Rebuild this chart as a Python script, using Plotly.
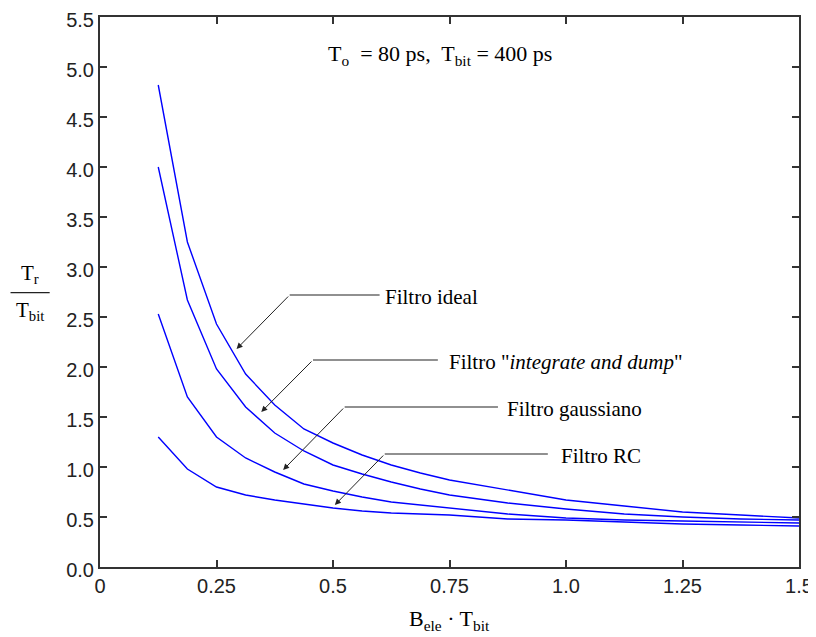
import plotly.graph_objects as go

# ---- data ----
x_vals = [0.125, 0.1875, 0.25, 0.3125, 0.375, 0.4375, 0.5, 0.5625, 0.625,
          0.6875, 0.75, 0.875, 1.0, 1.125, 1.25, 1.375, 1.5]
ideal = [4.82, 3.25, 2.43, 1.93, 1.62, 1.38, 1.24, 1.12, 1.02,
         0.94, 0.87, 0.77, 0.67, 0.61, 0.55, 0.52, 0.49]
int_dump = [4.00, 2.67, 1.98, 1.60, 1.34, 1.16, 1.02, 0.93, 0.85,
            0.78, 0.72, 0.64, 0.58, 0.53, 0.50, 0.48, 0.47]
gauss = [2.53, 1.70, 1.30, 1.09, 0.95, 0.83, 0.76, 0.70, 0.65,
         0.62, 0.59, 0.53, 0.49, 0.47, 0.46, 0.45, 0.44]
rc = [1.30, 0.98, 0.80, 0.72, 0.67, 0.63, 0.59, 0.56, 0.54,
      0.53, 0.52, 0.48, 0.47, 0.45, 0.43, 0.42, 0.41]

x_ticks = [0, 0.25, 0.5, 0.75, 1.0, 1.25, 1.5]
x_tick_text = ["0", "0.25", "0.5", "0.75", "1.0", "1.25", "1.5"]
y_ticks = [0.0, 0.5, 1.0, 1.5, 2.0, 2.5, 3.0, 3.5, 4.0, 4.5, 5.0, 5.5]
y_tick_text = ["0.0", "0.5", "1.0", "1.5", "2.0", "2.5", "3.0", "3.5", "4.0", "4.5", "5.0", "5.5"]

labels = ["Filtro ideal", "Filtro \"<i>integrate and dump</i>\"", "Filtro gaussiano", "Filtro RC"]
# arrow head (x,y), knee (x,y), line end x, text x
arrow_head = [(0.293, 2.18), (0.346, 1.55), (0.393, 0.97), (0.504, 0.62)]
knee = [(0.407, 2.72), (0.457, 2.07), (0.525, 1.60), (0.611, 1.13)]
line_end = [0.600, 0.725, 0.854, 0.961]
text_x = [0.608, 0.745, 0.870, 0.985]

serif = "Liberation Serif"
sans = "Liberation Sans"

fig = go.Figure()
for ys in [ideal, int_dump, gauss, rc]:
    fig.add_trace(go.Scatter(x=x_vals, y=ys, mode="lines",
                             line=dict(color="#0000ff", width=1.4),
                             showlegend=False, hoverinfo="skip"))

annotations = []
shapes = []
for lab, (hx, hy), (kx, ky), le, tx in zip(labels, arrow_head, knee, line_end, text_x):
    annotations.append(dict(x=hx, y=hy, ax=kx, ay=ky, xref="x", yref="y",
                            axref="x", ayref="y", text="", showarrow=True,
                            arrowhead=2, arrowsize=1.2, arrowwidth=1,
                            arrowcolor="#222222"))
    shapes.append(dict(type="line", xref="x", yref="y", x0=kx, y0=ky, x1=le, y1=ky,
                       line=dict(color="#222222", width=1.2)))
    annotations.append(dict(x=tx, y=ky - 0.02, xref="x", yref="y", text=lab,
                            showarrow=False, xanchor="left", yanchor="middle",
                            font=dict(family=serif, size=21, color="black")))

annotations.append(dict(x=0.73, y=5.12, xref="x", yref="y",
                        text="T<sub>o</sub>  = 80 ps,  T<sub>bit</sub> = 400 ps",
                        showarrow=False, xanchor="center", yanchor="middle",
                        font=dict(family=serif, size=22, color="black")))

# y-axis title as a fraction
annotations.append(dict(x=-0.1, y=0.505, xref="paper", yref="paper",
                        text="T<sub>r</sub>", showarrow=False,
                        xanchor="center", yanchor="bottom",
                        font=dict(family=serif, size=21, color="black")))
annotations.append(dict(x=-0.1, y=0.493, xref="paper", yref="paper",
                        text="T<sub>bit</sub>", showarrow=False,
                        xanchor="center", yanchor="top",
                        font=dict(family=serif, size=21, color="black")))
shapes.append(dict(type="line", xref="paper", yref="paper",
                   x0=-0.128, x1=-0.072, y0=0.499, y1=0.499,
                   line=dict(color="#222222", width=1.2)))

# x-axis title
annotations.append(dict(x=0.5, y=-0.068, xref="paper", yref="paper",
                        text="B<sub>ele</sub> \u00b7 T<sub>bit</sub>", showarrow=False,
                        xanchor="center", yanchor="top",
                        font=dict(family=serif, size=22, color="black")))

axis_common = dict(showgrid=False, zeroline=False, showline=True, mirror="ticks",
                   linecolor="#333333", linewidth=2, ticks="inside", ticklen=7,
                   tickcolor="#333333", tickwidth=1.5, automargin=False,
                   ticklabeloverflow="allow",
                   tickfont=dict(family=sans, size=20, color="#222222"))

fig.update_layout(
    width=808, height=629,
    margin=dict(l=92, r=17, t=9, b=70),
    paper_bgcolor="white", plot_bgcolor="white",
    xaxis=dict(range=[0, 1.5], tickvals=x_ticks, ticktext=x_tick_text, **axis_common),
    yaxis=dict(range=[0, 5.5], tickvals=y_ticks, ticktext=y_tick_text,
               ticklabelshift=3, **axis_common),
    annotations=annotations, shapes=shapes,
)

fig.write_html("out.html")
